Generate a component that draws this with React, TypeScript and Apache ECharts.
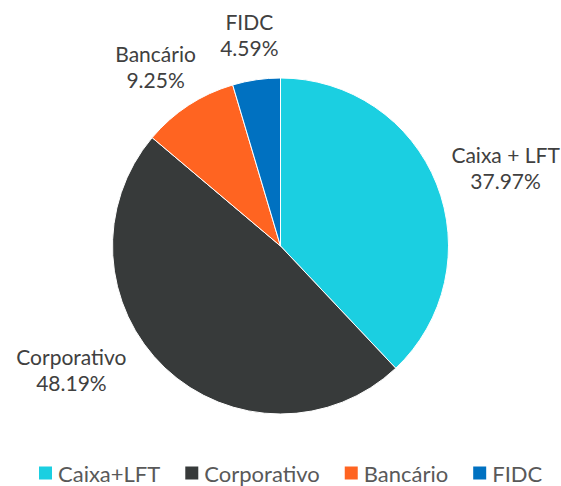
import React, { useEffect, useRef } from "react";
import * as echarts from "echarts";

const categories = ["Caixa+LFT", "Corporativo", "Bancário", "FIDC"];
const sliceLabels = ["Caixa + LFT", "Corporativo", "Bancário", "FIDC"];
const values = [37.97, 48.19, 9.25, 4.59];
const colors = ["#1BCFE1", "#373A3A", "#FF6421", "#0071C1"];

export default function App() {
  const ref = useRef<HTMLDivElement>(null);
  useEffect(() => {
    document.body.style.margin = "0";
    if (!ref.current) return;
    const chart = echarts.init(ref.current, undefined, { renderer: "svg" });
    const cx = 280.5;
    const cy = 246;
    const gap = 20;
    const clampGap = 14;
    const maxBottom = 395;
    chart.setOption({
      animation: false,
      color: colors,
      legend: {
        top: 462,
        left: 37,
        padding: 0,
        itemWidth: 15,
        itemHeight: 15,
        itemGap: 23,
        icon: "rect",
        textStyle: { fontFamily: "Lato", fontSize: 22, lineHeight: 15, color: "#595959" },
        data: categories,
      },
      series: [
        {
          type: "pie",
          center: [cx, cy],
          radius: 168,
          startAngle: 90,
          clockwise: true,
          data: categories.map((c, i) => ({ name: c, value: values[i] })),
          itemStyle: { borderColor: "#ffffff", borderWidth: 1 },
          label: {
            show: true,
            position: "outside",
            fontFamily: "Lato",
            fontSize: 21,
            lineHeight: 26,
            color: "#404040",
            align: "center",
            formatter: (p: any) => `${sliceLabels[p.dataIndex]}\n${values[p.dataIndex].toFixed(2)}%`,
          },
          labelLine: { show: true, length: 0, length2: 0, lineStyle: { opacity: 0, width: 0 } },
          labelLayout: (params: any) => {
            const pts = params.labelLinePoints;
            if (!pts) return {};
            const px = pts[0][0];
            const py = pts[0][1];
            let ux = px - cx;
            let uy = py - cy;
            const r = Math.sqrt(ux * ux + uy * uy) || 1;
            ux /= r;
            uy /= r;
            const w = params.labelRect.width;
            const h = params.labelRect.height;
            let x = px + ux * (gap + w / 2);
            let y = py + uy * (gap + h / 2);
            if (y + h / 2 > maxBottom) {
              y = maxBottom - h / 2;
              const top = y - h / 2;
              const bottom = y + h / 2;
              const dyN = top <= cy && bottom >= cy ? 0 : Math.min(Math.abs(top - cy), Math.abs(bottom - cy));
              const R = r + clampGap;
              const dxN = Math.sqrt(Math.max(0, R * R - dyN * dyN));
              x = cx + (ux < 0 ? -1 : 1) * (dxN + w / 2);
            }
            return { x, y, align: "center", verticalAlign: "middle" };
          },
        },
      ],
    });
    return () => chart.dispose();
  }, []);
  return <div ref={ref} style={{ width: 561, height: 486 }} />;
}
